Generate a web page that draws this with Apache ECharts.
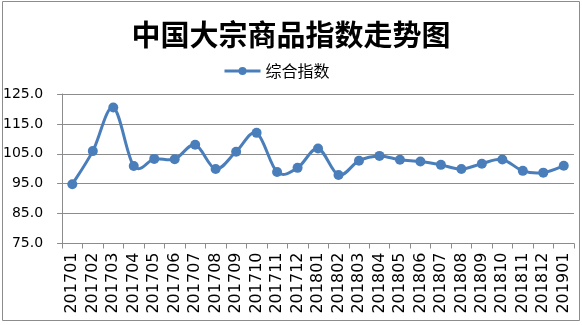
<!DOCTYPE html>
<html>
<head>
<meta charset="utf-8">
<script src="https://cdn.jsdelivr.net/npm/echarts@6/dist/echarts.min.js"></script>
<style>
html,body{margin:0;padding:0;background:#fff;}
#c{width:582px;height:325px;}
</style>
</head>
<body>
<div id="c"></div>
<script>
var titleText = '中国大宗商品指数走势图';
var seriesName = '综合指数';
var categories = ['201701','201702','201703','201704','201705','201706','201707','201708','201709','201710','201711','201712',
  '201801','201802','201803','201804','201805','201806','201807','201808','201809','201810','201811','201812','201901'];
var values = [94.8,105.9,120.5,100.9,103.3,103.2,108.0,99.9,105.7,112.0,98.9,100.3,
  106.8,97.9,102.7,104.3,103.0,102.4,101.3,99.9,101.7,103.1,99.3,98.7,101.0];
var yMin = 75, yMax = 125, yStep = 10;
var lineColor = '#4a7ebb';

// Smooth curve (Catmull-Rom style, like spreadsheet smoothing) drawn through the axis scales
function renderCurve(params, api) {
  var pts = values.map(function (v, i) { return api.coord([i, v]); });
  var d = 'M' + pts[0][0] + ' ' + pts[0][1];
  for (var i = 0; i < pts.length - 1; i++) {
    var p0 = pts[Math.max(i - 1, 0)], p1 = pts[i], p2 = pts[i + 1], p3 = pts[Math.min(i + 2, pts.length - 1)];
    var c1x = p1[0] + (p2[0] - p0[0]) / 6, c1y = p1[1] + (p2[1] - p0[1]) / 6;
    var c2x = p2[0] - (p3[0] - p1[0]) / 6, c2y = p2[1] - (p3[1] - p1[1]) / 6;
    d += ' C' + c1x + ' ' + c1y + ' ' + c2x + ' ' + c2y + ' ' + p2[0] + ' ' + p2[1];
  }
  return {type:'path', shape:{pathData:d}, style:{fill:'none', stroke:lineColor, lineWidth:3}};
}

var chart = echarts.init(document.getElementById('c'), null, {renderer:'canvas'});
chart.setOption({
  animation:false,
  backgroundColor:'#fff',
  graphic:[{type:'rect', shape:{x:2.5,y:1.5,width:577,height:319}, style:{fill:'none',stroke:'#8c8c8c',lineWidth:1}, z:-1}],
  title:{text:titleText, left:'center', top:15,
    textStyle:{fontFamily:'Noto Sans CJK SC', fontWeight:'bold', fontSize:29, color:'#000'}},
  legend:{data:[seriesName], left:218, top:58, itemWidth:36, itemHeight:10, itemGap:3,
    lineStyle:{color:lineColor, width:3, opacity:1},
    textStyle:{fontFamily:'Noto Sans CJK SC', fontSize:16, color:'#000'}},
  grid:{left:61, right:8, top:94, bottom:81.5, containLabel:false},
  xAxis:{type:'category', data:categories, boundaryGap:true,
    axisLine:{lineStyle:{color:'#8c8c8c', width:1}},
    axisTick:{show:true, alignWithLabel:false, length:5, lineStyle:{color:'#8c8c8c'}},
    axisLabel:{rotate:90, interval:0, margin:9, fontFamily:'DejaVu Sans', fontSize:16, color:'#000'}},
  yAxis:{type:'value', min:yMin, max:yMax, interval:yStep,
    axisLine:{show:true, lineStyle:{color:'#8c8c8c', width:1}},
    axisTick:{show:true, length:5, lineStyle:{color:'#8c8c8c'}},
    axisLabel:{margin:19, fontFamily:'DejaVu Sans', fontSize:14, color:'#000',
      formatter:function(v){return v.toFixed(1);}},
    splitLine:{lineStyle:{color:'#8c8c8c', width:1}}},
  series:[
    {name:'curve', type:'custom', data:[[0, values[0]]], renderItem:renderCurve, z:2, silent:true},
    {name:seriesName, type:'line', data:values, smooth:false,
      symbol:'circle', symbolSize:10, z:3,
      lineStyle:{color:lineColor, width:3, opacity:0},
      itemStyle:{color:lineColor}}
  ]
});
</script>
</body>
</html>
